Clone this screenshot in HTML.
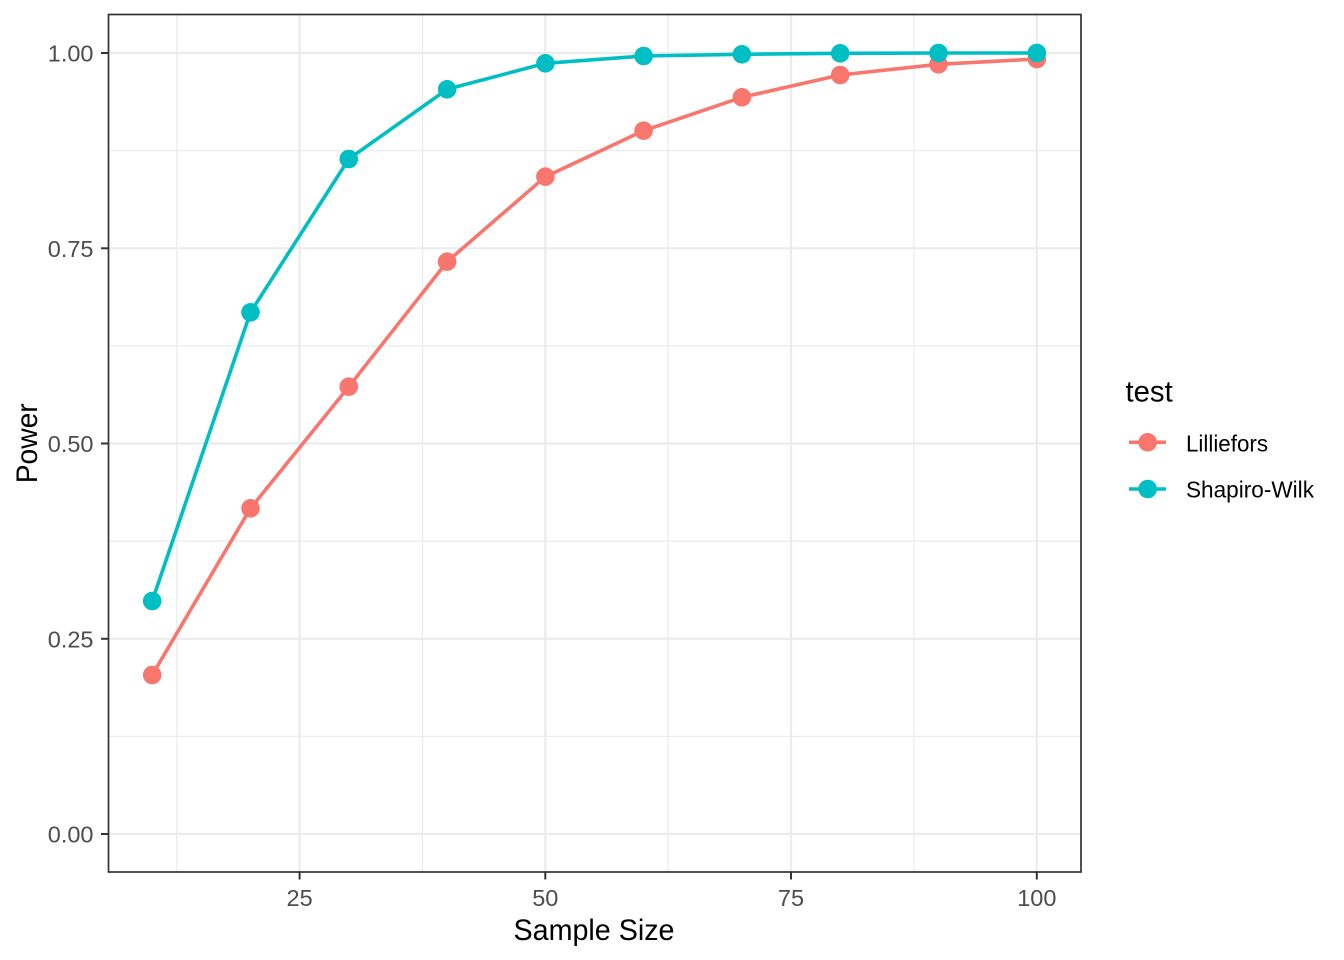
<!DOCTYPE html>
<html>
<head>
<meta charset="utf-8">
<style>
  html, body { margin: 0; padding: 0; background: #ffffff; }
  svg { display: block; }
  text { font-family: "Liberation Sans", Arial, sans-serif; }
</style>
</head>
<body>
<svg width="1344" height="960" viewBox="0 0 1344 960" xmlns="http://www.w3.org/2000/svg">
  <rect x="0" y="0" width="1344" height="960" fill="#ffffff"/>

  <!-- minor grid -->
  <g stroke="#EBEBEB" stroke-width="1.2" fill="none">
    <line x1="176.8" y1="14.5" x2="176.8" y2="872"/>
    <line x1="422.5" y1="14.5" x2="422.5" y2="872"/>
    <line x1="668.1" y1="14.5" x2="668.1" y2="872"/>
    <line x1="913.9" y1="14.5" x2="913.9" y2="872"/>
    <line x1="108.5" y1="150.6" x2="1081" y2="150.6"/>
    <line x1="108.5" y1="345.9" x2="1081" y2="345.9"/>
    <line x1="108.5" y1="541.1" x2="1081" y2="541.1"/>
    <line x1="108.5" y1="736.4" x2="1081" y2="736.4"/>
  </g>
  <!-- major grid -->
  <g stroke="#EBEBEB" stroke-width="2.2" fill="none">
    <line x1="299.6" y1="14.5" x2="299.6" y2="872"/>
    <line x1="545.3" y1="14.5" x2="545.3" y2="872"/>
    <line x1="791" y1="14.5" x2="791" y2="872"/>
    <line x1="1036.8" y1="14.5" x2="1036.8" y2="872"/>
    <line x1="108.5" y1="53" x2="1081" y2="53"/>
    <line x1="108.5" y1="248.3" x2="1081" y2="248.3"/>
    <line x1="108.5" y1="443.5" x2="1081" y2="443.5"/>
    <line x1="108.5" y1="638.8" x2="1081" y2="638.8"/>
    <line x1="108.5" y1="834" x2="1081" y2="834"/>
  </g>

  <!-- Lilliefors -->
  <polyline fill="none" stroke="#F8766D" stroke-width="3.6" stroke-linejoin="round"
    points="152.2,675 250.5,508.3 348.8,386.7 447.1,261.7 545.4,176.7 643.6,130.7 741.9,97.3 840.2,75 938.5,64.3 1036.8,59"/>
  <g fill="#F8766D">
    <circle cx="152.2" cy="675" r="9.3"/>
    <circle cx="250.5" cy="508.3" r="9.3"/>
    <circle cx="348.8" cy="386.7" r="9.3"/>
    <circle cx="447.1" cy="261.7" r="9.3"/>
    <circle cx="545.4" cy="176.7" r="9.3"/>
    <circle cx="643.6" cy="130.7" r="9.3"/>
    <circle cx="741.9" cy="97.3" r="9.3"/>
    <circle cx="840.2" cy="75" r="9.3"/>
    <circle cx="938.5" cy="64.3" r="9.3"/>
    <circle cx="1036.8" cy="59" r="9.3"/>
  </g>

  <!-- Shapiro-Wilk -->
  <polyline fill="none" stroke="#00BFC4" stroke-width="3.6" stroke-linejoin="round"
    points="152.2,601 250.5,312.3 348.8,159 447.1,89.3 545.4,63.3 643.6,56 741.9,54.3 840.2,53.3 938.5,53 1036.8,53"/>
  <g fill="#00BFC4">
    <circle cx="152.2" cy="601" r="9.3"/>
    <circle cx="250.5" cy="312.3" r="9.3"/>
    <circle cx="348.8" cy="159" r="9.3"/>
    <circle cx="447.1" cy="89.3" r="9.3"/>
    <circle cx="545.4" cy="63.3" r="9.3"/>
    <circle cx="643.6" cy="56" r="9.3"/>
    <circle cx="741.9" cy="54.3" r="9.3"/>
    <circle cx="840.2" cy="53.3" r="9.3"/>
    <circle cx="938.5" cy="53" r="9.3"/>
    <circle cx="1036.8" cy="53" r="9.3"/>
  </g>

  <!-- panel border -->
  <rect x="108.5" y="14.5" width="972.5" height="857.5" fill="none" stroke="#333333" stroke-width="1.7"/>

  <!-- ticks -->
  <g stroke="#333333" stroke-width="2">
    <line x1="101" y1="53" x2="108.5" y2="53"/>
    <line x1="101" y1="248.3" x2="108.5" y2="248.3"/>
    <line x1="101" y1="443.5" x2="108.5" y2="443.5"/>
    <line x1="101" y1="638.8" x2="108.5" y2="638.8"/>
    <line x1="101" y1="834" x2="108.5" y2="834"/>
    <line x1="299.6" y1="872" x2="299.6" y2="879.5"/>
    <line x1="545.3" y1="872" x2="545.3" y2="879.5"/>
    <line x1="791" y1="872" x2="791" y2="879.5"/>
    <line x1="1036.8" y1="872" x2="1036.8" y2="879.5"/>
  </g>

  <!-- y tick labels -->
  <g fill="#4D4D4D" font-size="23.5" text-anchor="end">
    <text x="93.5" y="61.5">1.00</text>
    <text x="93.5" y="256.8">0.75</text>
    <text x="93.5" y="452">0.50</text>
    <text x="93.5" y="647.3">0.25</text>
    <text x="93.5" y="842.5">0.00</text>
  </g>
  <!-- x tick labels -->
  <g fill="#4D4D4D" font-size="23.5" text-anchor="middle">
    <text x="299.6" y="906">25</text>
    <text x="545.3" y="906">50</text>
    <text x="791" y="906">75</text>
    <text x="1036.8" y="906">100</text>
  </g>

  <!-- axis titles -->
  <text x="594" y="940" font-size="29.3" fill="#000000" text-anchor="middle" textLength="161" lengthAdjust="spacingAndGlyphs">Sample Size</text>
  <text transform="translate(37,443.3) rotate(-90)" x="0" y="0" font-size="29.3" fill="#000000" text-anchor="middle" textLength="80" lengthAdjust="spacingAndGlyphs">Power</text>

  <!-- legend -->
  <text x="1125.5" y="401.5" font-size="29.3" fill="#000000">test</text>
  <line x1="1129" y1="442.3" x2="1166" y2="442.3" stroke="#F8766D" stroke-width="3.6"/>
  <circle cx="1147.7" cy="442.3" r="9.3" fill="#F8766D"/>
  <line x1="1129" y1="489" x2="1166" y2="489" stroke="#00BFC4" stroke-width="3.6"/>
  <circle cx="1147.7" cy="489" r="9.3" fill="#00BFC4"/>
  <text x="1186" y="451.7" font-size="23.5" fill="#000000" textLength="82" lengthAdjust="spacingAndGlyphs">Lilliefors</text>
  <text x="1186" y="497.7" font-size="23.5" fill="#000000" textLength="128" lengthAdjust="spacingAndGlyphs">Shapiro-Wilk</text>
</svg>
</body>
</html>
